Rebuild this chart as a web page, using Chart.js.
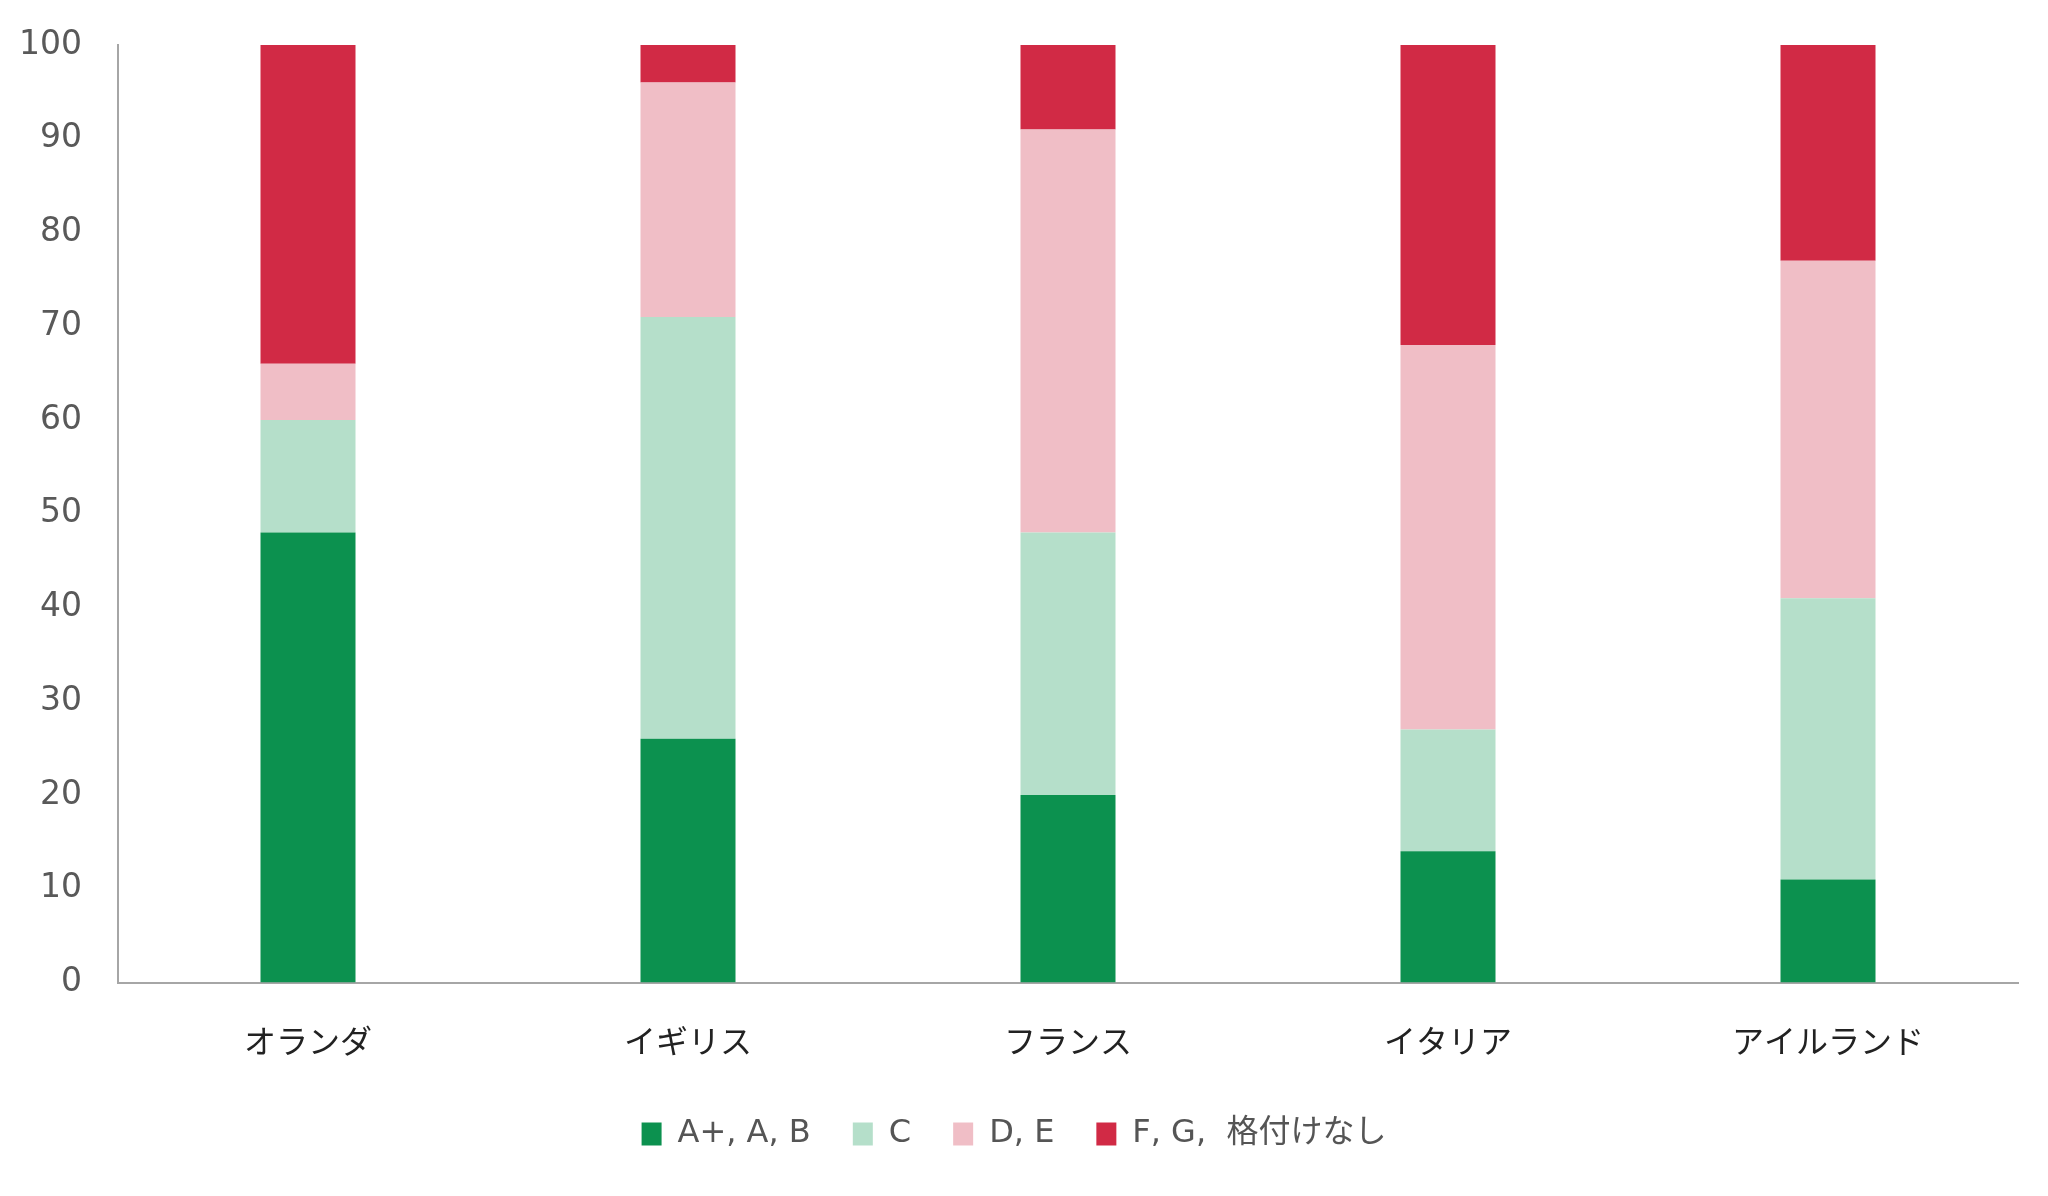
<!DOCTYPE html>
<html>
<head>
<meta charset="utf-8">
<script src="https://cdn.jsdelivr.net/npm/chart.js@4.4.0/dist/chart.umd.min.js"></script>
<style>
  html, body { margin: 0; padding: 0; background: #ffffff; }
  #wrap { width: 2048px; height: 1196px; }
</style>
</head>
<body>
<div id="wrap"><canvas id="migrafica"></canvas></div>
<script>
const countries = ["オランダ", "イギリス", "フランス", "イタリア", "アイルランド"];
const gradeAB = [48, 26, 20, 14, 11];
const gradeC = [12, 45, 28, 13, 30];
const gradeDE = [6, 25, 43, 41, 36];
const gradeFG = [34, 4, 9, 32, 23];
const seriesNames = ["A+, A, B", "C", "D, E", "F, G,  格付けなし"];

document.addEventListener("DOMContentLoaded", function () {
    let ctx = document.getElementById("migrafica").getContext("2d");
    const latinFont = "'DejaVu Sans', 'Noto Sans CJK JP', sans-serif";
    const jpFont = "'Noto Sans CJK JP', sans-serif";

    new Chart(ctx, {
        type: 'bar',
        data: {
            labels: countries,
            datasets: [
                { label: seriesNames[0], data: gradeAB, backgroundColor: '#0c914f' },
                { label: seriesNames[1], data: gradeC, backgroundColor: '#b5dfca' },
                { label: seriesNames[2], data: gradeDE, backgroundColor: '#f0bec6' },
                { label: seriesNames[3], data: gradeFG, backgroundColor: '#d12a45' }
            ]
        },
        options: {
            responsive: true,
            maintainAspectRatio: false,
            animation: false,
            datasets: {
                bar: { barPercentage: 0.25, categoryPercentage: 1.0 }
            },
            layout: { padding: { top: 45, right: 30, bottom: 36, left: 10 } },
            scales: {
                x: {
                    stacked: true,
                    grid: { display: false, drawTicks: false },
                    border: { display: true, color: '#a6a6a6', width: 2 },
                    ticks: {
                        padding: 39,
                        color: '#222222',
                        font: { family: jpFont, size: 32 }
                    },
                    afterFit: function (scale) { scale.height -= 23; }
                },
                y: {
                    stacked: true,
                    min: 0,
                    max: 100,
                    grid: { display: false, drawTicks: false },
                    border: { display: true, color: '#a6a6a6', width: 2 },
                    ticks: {
                        stepSize: 10,
                        padding: 36,
                        color: '#595959',
                        font: { family: latinFont, size: 33 }
                    },
                    afterFit: function (scale) {
                        scale.width = 108;
                        scale.paddingTop = 0;
                    }
                }
            },
            plugins: {
                legend: {
                    position: 'bottom',
                    labels: {
                        boxWidth: 20,
                        boxHeight: 23,
                        padding: 42,
                        color: '#555555',
                        font: { family: latinFont, size: 32 }
                    }
                },
                tooltip: { enabled: false }
            }
        }
    });
});
</script>
</body>
</html>
